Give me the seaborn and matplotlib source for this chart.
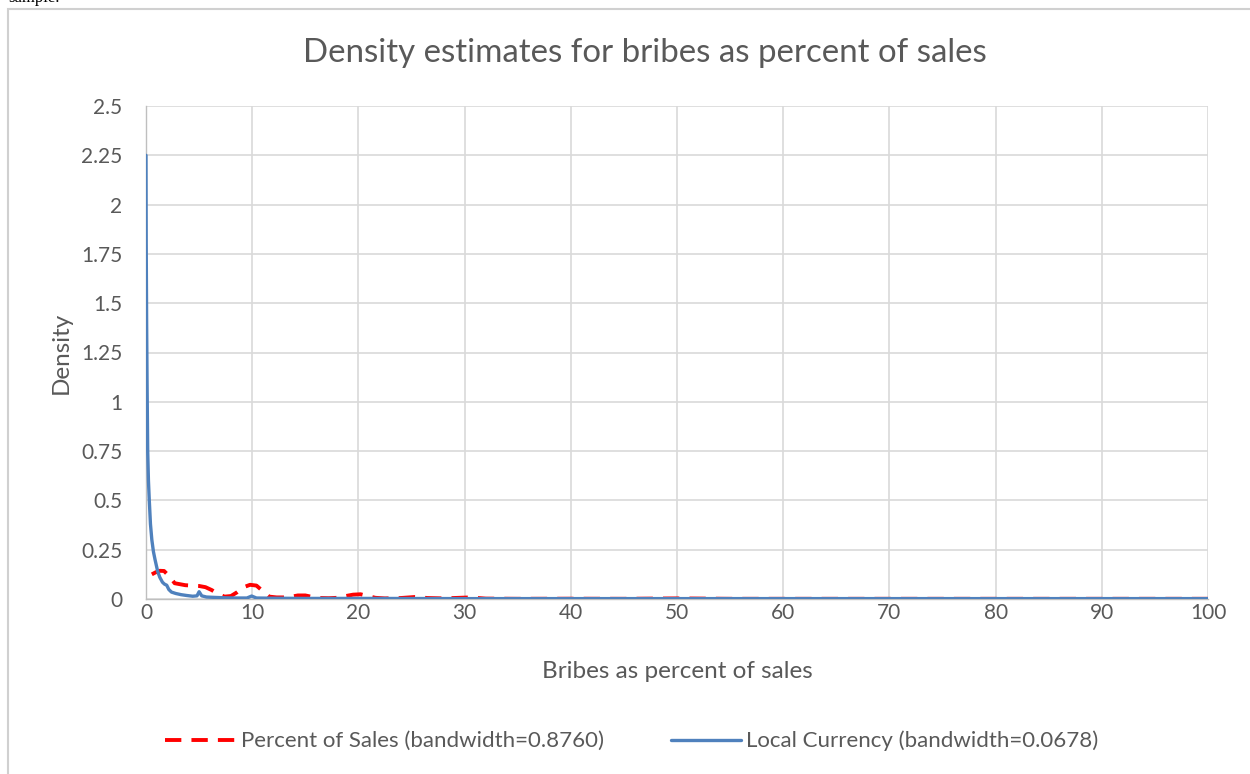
import matplotlib
matplotlib.use("Agg")
import matplotlib.pyplot as plt
import matplotlib.patches as mpatches
import seaborn as sns
import pandas as pd

# ---- data ----
pct_x = [0.55, 0.9, 1.3, 1.7, 2.2, 2.7, 3.2, 3.7, 4.3, 5.0, 5.6, 6.2, 6.8, 7.4, 8.0,
         8.6, 9.2, 9.8, 10.4, 11.0, 11.6, 12.3, 13.0, 13.7, 14.3, 15.0, 15.7, 16.4,
         17.2, 18.0, 18.8, 19.5, 20.2, 20.9, 21.6, 22.5, 24.0, 25.3, 26.5, 28.0,
         30.5, 32.0, 35.0, 40.0, 45.0, 50.0, 55.0, 60.0, 70.0, 80.0, 90.0, 100.0]
pct_y = [0.125, 0.135, 0.143, 0.142, 0.115, 0.080, 0.075, 0.070, 0.068, 0.066,
         0.060, 0.045, 0.025, 0.012, 0.015, 0.035, 0.060, 0.072, 0.068, 0.040,
         0.012, 0.008, 0.008, 0.012, 0.018, 0.018, 0.010, 0.005, 0.004, 0.006,
         0.015, 0.022, 0.024, 0.015, 0.006, 0.003, 0.005, 0.010, 0.005, 0.003,
         0.008, 0.002, 0.001, 0.0015, 0.001, 0.003, 0.001, 0.001, 0.001, 0.001,
         0.001, 0.001]

loc_x = [0.0, 0.02, 0.06, 0.10, 0.16, 0.23, 0.31, 0.42, 0.55, 0.70, 0.85, 1.10,
         1.30, 1.40, 1.55, 1.75, 1.95, 2.15, 2.40, 2.80, 3.30, 3.80, 4.40, 4.80,
         5.00, 5.25, 5.70, 6.50, 7.50, 8.50, 9.50, 9.95, 10.4, 12.0, 15.0, 20.0,
         30.0, 40.0, 50.0, 60.0, 70.0, 80.0, 90.0, 100.0]
loc_y = [2.25, 1.80, 1.40, 1.10, 0.75, 0.60, 0.50, 0.38, 0.30, 0.24, 0.20, 0.14,
         0.11, 0.10, 0.085, 0.075, 0.070, 0.048, 0.035, 0.028, 0.022, 0.018,
         0.014, 0.016, 0.037, 0.016, 0.010, 0.008, 0.006, 0.005, 0.005, 0.015,
         0.005, 0.004, 0.003, 0.003, 0.002, 0.002, 0.002, 0.002, 0.002, 0.002,
         0.002, 0.002]

pct_label = "Percent of Sales (bandwidth=0.8760)"
loc_label = "Local Currency (bandwidth=0.0678)"
title = "Density estimates for bribes as percent of sales"
x_ticks = [0, 10, 20, 30, 40, 50, 60, 70, 80, 90, 100]
y_ticks = [0, 0.25, 0.5, 0.75, 1, 1.25, 1.5, 1.75, 2, 2.25, 2.5]

# ---- style ----
sns.set_theme(style="white")
plt.rcParams["font.family"] = ["Lato", "DejaVu Sans"]
TXT = "#595959"
GRID = "#d9d9d9"

fig = plt.figure(figsize=(12.5, 7.74), dpi=100)
ax = fig.add_axes([146 / 1250, 1 - 599 / 774, (1208 - 146) / 1250, (599 - 106) / 774])

df_pct = pd.DataFrame({"x": pct_x, "y": pct_y})
df_loc = pd.DataFrame({"x": loc_x, "y": loc_y})

sns.lineplot(data=df_pct, x="x", y="y", ax=ax, color="#ff0000", linewidth=2.8,
             linestyle=(0, (4.2, 2.6)), estimator=None, sort=False,
             label=pct_label, zorder=3)
sns.lineplot(data=df_loc, x="x", y="y", ax=ax, color="#4f81bd", linewidth=2.4,
             estimator=None, sort=False, label=loc_label, zorder=4)

ax.set_xlim(0, 100)
ax.set_ylim(0, 2.5)
ax.set_xticks(x_ticks)
ax.set_yticks(y_ticks)
ax.set_xticklabels([f"{v:g}" for v in x_ticks])
ax.set_yticklabels([f"{v:g}" for v in y_ticks])
ax.grid(True, color=GRID, linewidth=1.2)
ax.set_axisbelow(True)
for s in ["top", "right"]:
    ax.spines[s].set_visible(False)
for s in ["left", "bottom"]:
    ax.spines[s].set_color("#bfbfbf")
    ax.spines[s].set_linewidth(1.0)
ax.tick_params(axis="both", length=0, labelsize=15, colors=TXT)
ax.tick_params(axis="y", pad=17)
ax.tick_params(axis="x", pad=3)

ax.set_xlabel("Bribes as percent of sales", fontsize=17.5, color=TXT, labelpad=27)
ax.set_ylabel("Density", fontsize=17.5, color=TXT, labelpad=7)
fig.text(645 / 1250, 1 - 53 / 774, title, fontsize=23.8, color=TXT,
         ha="center", va="center")

ax.get_legend().remove()
h, l = ax.get_legend_handles_labels()
fig.legend(h, l, loc="center", bbox_to_anchor=(632 / 1250, 1 - 741 / 774),
           ncol=2, frameon=False, fontsize=16, handlelength=3.15,
           columnspacing=3.0, handletextpad=0.25, labelcolor=TXT)

# chart frame
fig.patches.append(mpatches.Rectangle((7.5 / 1250, -0.1), 1.2, 1.1 - 9 / 774,
                                      transform=fig.transFigure, fill=False,
                                      edgecolor="#d0d0d0", linewidth=1.5))
fig.text(8 / 1250, 1 - 1.5 / 774, "sample.", fontsize=12,
         family=["Liberation Serif", "DejaVu Serif"], color="black",
         ha="left", va="baseline")

fig.savefig("out.png", dpi=100)
